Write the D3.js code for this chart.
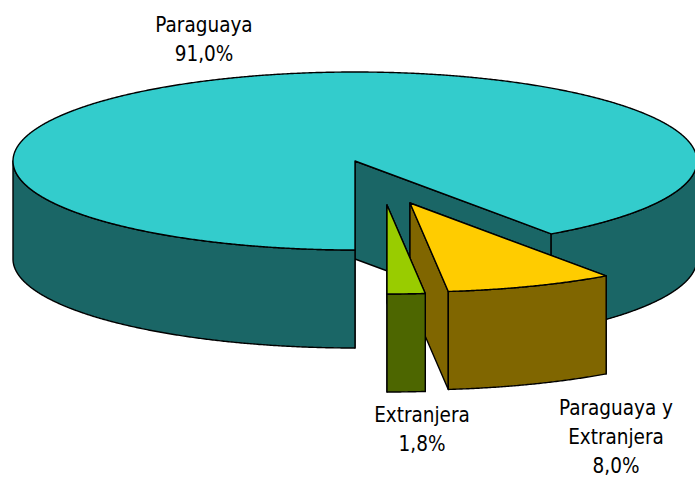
<!DOCTYPE html>
<html>
<head>
<meta charset="utf-8">
<script src="https://cdn.jsdelivr.net/npm/d3@7"></script>
<style>
  html, body { margin: 0; padding: 0; background: #fff; }
  svg { display: block; }
  text { font-family: "DejaVu Sans Condensed", "DejaVu Sans", sans-serif; font-stretch: condensed; font-size: 20.5px; fill: #000; }
</style>
</head>
<body>
<div id="chart"></div>
<script>
// data
var categories = ["Paraguaya", "Paraguaya y Extranjera", "Extranjera"];
var values = [91.0, 8.0, 1.8];
var valueLabels = ["91,0%", "8,0%", "1,8%"];
var nameLines = [["Paraguaya"], ["Paraguaya y", "Extranjera"], ["Extranjera"]];

// look
var topColors = ["#33CCCC", "#FFCC00", "#99CC00"];
var sideColors = ["#1A6666", "#806600", "#4D6600"];
var explode = [[0, 0], [55, 42], [32, 44]];
var labelPos = [[204, 32], [616, 415], [422, 422]];

var width = 695, height = 477,
    cx = 355, cy = 161,
    rx = 342, ry = 89,
    depth = 98,
    lineGap = 29;

var svg = d3.select("#chart").append("svg")
    .attr("width", width)
    .attr("height", height);

var pie = d3.pie()
    .sort(null)
    .startAngle(Math.PI)
    .endAngle(3 * Math.PI)
    .value(function(d) { return d; });

var slices = pie(values).map(function(d, i) {
    d.i = i;
    d.off = explode[i];
    return d;
});

var line = d3.line();

function pt(a, r, off, dz) {
    return [cx + off[0] + r * rx * Math.sin(a), cy + off[1] - r * ry * Math.cos(a) + dz];
}

function arcPts(a0, a1, off, dz) {
    var n = Math.max(2, Math.ceil(Math.abs(a1 - a0) / 0.005));
    return d3.range(n + 1).map(function(k) {
        return pt(a0 + (a1 - a0) * k / n, 1, off, dz);
    });
}

// parts of [a0,a1] that face the viewer (lower half of the ellipse)
function frontParts(a0, a1) {
    var out = [];
    for (var k = 0; k < 3; k++) {
        var s = Math.max(a0, Math.PI / 2 + 2 * Math.PI * k),
            e = Math.min(a1, 3 * Math.PI / 2 + 2 * Math.PI * k);
        if (e > s) out.push([s, e]);
    }
    return out;
}

function drawSlice(d) {
    var g = svg.append("g").attr("class", "slice");
    var off = d.off;
    var tipT = pt(0, 0, off, 0), tipB = pt(0, 0, off, depth);

    // cut faces
    [d.startAngle, d.endAngle].forEach(function(a) {
        g.append("path")
            .attr("d", line([tipT, pt(a, 1, off, 0), pt(a, 1, off, depth), tipB]) + "Z")
            .attr("fill", sideColors[d.i])
            .attr("stroke", "#000")
            .attr("stroke-width", 1.4)
            .attr("stroke-linejoin", "round");
    });

    // outer wall
    frontParts(d.startAngle, d.endAngle).forEach(function(p) {
        var top = arcPts(p[0], p[1], off, 0),
            bot = arcPts(p[1], p[0], off, depth);
        g.append("path")
            .attr("d", line(top.concat(bot)) + "Z")
            .attr("fill", sideColors[d.i])
            .attr("stroke", "#000")
            .attr("stroke-width", 1.4)
            .attr("stroke-linejoin", "round");
    });

    // top face
    g.append("path")
        .attr("d", line([tipT].concat(arcPts(d.startAngle, d.endAngle, off, 0))) + "Z")
        .attr("fill", topColors[d.i])
        .attr("stroke", "#000")
        .attr("stroke-width", 1.4)
        .attr("stroke-linejoin", "round");
}

// back to front: main slice, then the yellow one, then the green one
drawSlice(slices[0]);
drawSlice(slices[1]);
drawSlice(slices[2]);

// labels
slices.forEach(function(d) {
    var lines = nameLines[d.i].concat([valueLabels[d.i]]);
    var t = svg.append("text")
        .attr("text-anchor", "middle")
        .attr("x", labelPos[d.i][0])
        .attr("y", labelPos[d.i][1]);
    lines.forEach(function(s, k) {
        t.append("tspan")
            .attr("x", labelPos[d.i][0])
            .attr("y", labelPos[d.i][1] + k * lineGap)
            .text(s);
    });
});
</script>
</body>
</html>
